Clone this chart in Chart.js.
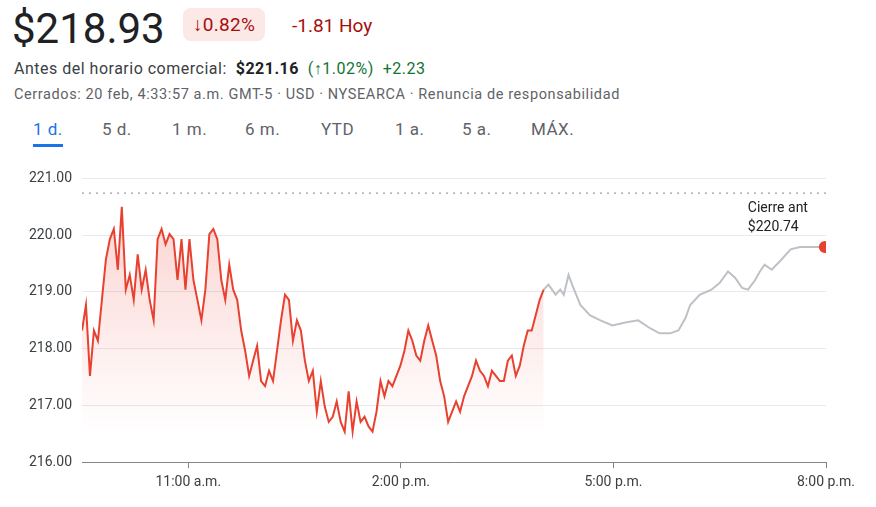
<!DOCTYPE html>
<html>
<head>
<meta charset="utf-8">
<script src="https://cdn.jsdelivr.net/npm/chart.js@4"></script>
<style>
  body { margin: 0; width: 876px; height: 507px; background: #fff; font-family: Roboto, Arial, sans-serif; color: #202124; position: relative; overflow: hidden; }
  .price { position: absolute; left: 12px; top: 4px; font-size: 42px; }
  .badge { position: absolute; left: 183px; top: 8px; background: #fce8e6; color: #a50e0e; font-size: 19px; padding: 5px 10px; border-radius: 8px; letter-spacing: 0.3px; }
  .chg { position: absolute; left: 292px; top: 14px; color: #a50e0e; font-size: 19px; }
  .pre { position: absolute; left: 14px; top: 59px; font-size: 16px; color: #3c4043; letter-spacing: 0.5px; }
  .pre b { color: #202124; }
  .green { color: #137333; }
  .info { position: absolute; left: 14px; top: 86px; font-size: 14.5px; color: #5f6368; letter-spacing: 0.6px; }
  .tabs { position: absolute; top: 119px; left: 0; font-size: 17px; color: #5f6368; letter-spacing: 0.5px; }
  .tabs span { position: absolute; white-space: nowrap; }
  .tabs .on { color: #1a73e8; border-bottom: 3px solid #1a73e8; padding-bottom: 5px; }
  #wrap { position: absolute; left: 0; top: 160px; width: 876px; height: 347px; }
</style>
</head>
<body>
<div class="price">$218.93</div>
<div class="badge">↓0.82%</div>
<div class="chg">-1.81 Hoy</div>
<div class="pre">Antes del horario comercial:&nbsp;&nbsp;<b>$221.16</b>&nbsp;&nbsp;<span class="green">(↑1.02%)&nbsp;&nbsp;+2.23</span></div>
<div class="info">Cerrados: 20 feb, 4:33:57 a.m. GMT-5 · USD · NYSEARCA · Renuncia de responsabilidad</div>
<div class="tabs">
  <span class="on" style="left:33px">1 d.</span>
  <span style="left:102px">5 d.</span>
  <span style="left:172px">1 m.</span>
  <span style="left:245px">6 m.</span>
  <span style="left:321px">YTD</span>
  <span style="left:395px">1 a.</span>
  <span style="left:462px">5 a.</span>
  <span style="left:531px">MÁX.</span>
</div>
<div id="wrap"><canvas id="c"></canvas></div>
<script>
// minutes since 9:30 a.m.
const tickMinutes = [90, 270, 450, 630];
const tickLabels = ["11:00 a.m.", "2:00 p.m.", "5:00 p.m.", "8:00 p.m."];
const yTicks = [216, 217, 218, 219, 220, 221];
const prevClose = 220.74;

const sessionStep = 3.37;
const sessionValues = [218.32,218.77,217.52,218.32,218.14,218.86,219.57,219.93,220.11,219.39,220.5,219.04,219.3,218.86,219.66,219.04,219.39,218.86,218.5,219.93,220.11,219.84,220.02,219.93,219.21,219.93,219.04,219.93,219.21,218.86,218.5,219.04,220.02,220.11,219.93,219.21,218.86,219.48,219.04,218.86,218.32,217.96,217.52,217.79,218.05,217.43,217.34,217.61,217.43,217.96,218.5,218.95,218.86,218.14,218.5,218.32,217.79,217.43,217.61,216.89,217.43,216.98,216.71,216.80,217.07,216.71,216.54,217.25,216.54,217.07,216.71,216.80,216.63,216.54,216.89,217.43,217.16,217.43,217.34,217.52,217.70,217.96,218.32,218.14,217.88,217.79,218.14,218.41,218.14,217.88,217.43,217.16,216.71,216.89,217.07,216.89,217.16,217.34,217.52,217.79,217.61,217.52,217.34,217.61,217.52,217.43,217.43,217.79,217.88,217.52,217.70,218.05,218.32,218.32,218.59,218.86,219.04];

const afterMinutes = [391,395,398,401,405,408,412,415,422,430,439,449,460,471,481,489,498,505,511,515,523,533,540,547,553,559,564,570,574,578,584,591,600,608,621,629];
const afterValues = [219.04,219.13,219.04,218.95,219.04,218.95,219.30,219.13,218.77,218.59,218.5,218.41,218.46,218.5,218.36,218.27,218.27,218.32,218.54,218.77,218.95,219.04,219.16,219.36,219.25,219.07,219.04,219.21,219.36,219.48,219.39,219.54,219.75,219.79,219.79,219.79];

const sessionData = sessionValues.map((v, i) => ({ x: i * sessionStep, y: v }));
const afterData = afterMinutes.map((m, i) => ({ x: m, y: afterValues[i] }));

const closeLabel = {
  id: 'closeLabel',
  afterDatasetsDraw(chart) {
    const { ctx, scales } = chart;
    const x = scales.x.getPixelForValue(afterMinutes[afterMinutes.length - 1]);
    const y = scales.y.getPixelForValue(prevClose);
    ctx.save();
    ctx.font = '14px Roboto';
    ctx.fillStyle = '#202124';
    ctx.textAlign = 'left';
    ctx.fillText('Cierre ant', x - 77, y + 19);
    ctx.fillText('$' + prevClose.toFixed(2), x - 77, y + 38);
    ctx.restore();
  }
};

new Chart(document.getElementById('c'), {
  type: 'line',
  data: {
    datasets: [
      {
        data: sessionData,
        borderColor: '#e8412f',
        borderWidth: 2,
        pointRadius: 0,
        tension: 0,
        fill: 'origin',
        backgroundColor: (ctx) => {
          const area = ctx.chart.chartArea;
          if (!area) return 'rgba(234,67,53,0.1)';
          const g = ctx.chart.ctx.createLinearGradient(0, area.top + 40, 0, area.bottom - 30);
          g.addColorStop(0, 'rgba(234,67,53,0.22)');
          g.addColorStop(1, 'rgba(234,67,53,0)');
          return g;
        }
      },
      {
        data: afterData,
        borderColor: '#bdc1c6',
        borderWidth: 2,
        tension: 0,
        pointRadius: afterData.map((d, i) => i === afterData.length - 1 ? 5 : 0),
        pointBackgroundColor: '#e8412f',
        pointBorderColor: '#e8412f',
        fill: false
      },
      {
        data: [{ x: 0, y: prevClose }, { x: 630, y: prevClose }],
        borderColor: '#9aa0a6',
        borderWidth: 1.2,
        borderDash: [2, 5],
        pointRadius: 0,
        fill: false
      }
    ]
  },
  options: {
    responsive: true,
    maintainAspectRatio: false,
    animation: false,
    layout: { padding: { top: 15, right: 50, bottom: 10, left: 0 } },
    scales: {
      x: {
        type: 'linear',
        min: 0,
        max: 630,
        afterBuildTicks: (s) => { s.ticks = tickMinutes.map(v => ({ value: v })); },
        ticks: {
          autoSkip: false,
          maxRotation: 0,
          color: '#3c4043',
          font: { size: 14, family: 'Roboto' },
          padding: 6,
          callback: (v) => tickLabels[tickMinutes.indexOf(v)]
        },
        grid: { drawOnChartArea: false, color: '#80868b', tickLength: 6 },
        border: { color: '#80868b', width: 1 }
      },
      y: {
        min: 216,
        max: 221,
        afterBuildTicks: (s) => { s.ticks = yTicks.map(v => ({ value: v })); },
        afterFit: (s) => { s.width = 82; },
        ticks: {
          color: '#3c4043',
          font: { size: 14, family: 'Roboto' },
          padding: 10,
          callback: (v) => v.toFixed(2)
        },
        grid: { color: '#e8eaed', drawTicks: false },
        border: { display: false }
      }
    },
    plugins: { legend: { display: false }, tooltip: { enabled: false } }
  },
  plugins: [closeLabel]
});
</script>
</body>
</html>
